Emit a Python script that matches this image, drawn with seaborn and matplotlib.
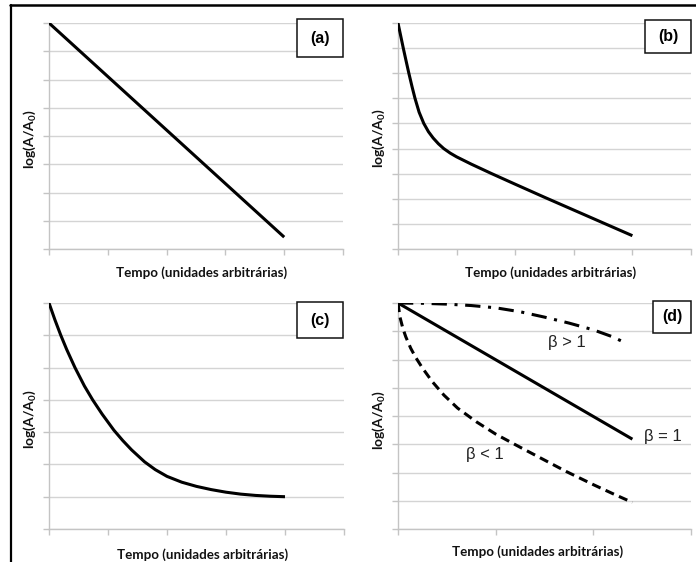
import matplotlib
matplotlib.use("Agg")
import matplotlib.pyplot as plt
from matplotlib.patches import Rectangle
from matplotlib.lines import Line2D
import seaborn as sns
import pandas as pd

# ---- curve data (time in arbitrary units, log(A/A0) in grid units) ----
a_t = [0.0, 4.0]
a_y = [8.0, 0.42]

b_t = [0.0, 0.045, 0.09, 0.14, 0.185, 0.24, 0.29, 0.36, 0.44, 0.52, 0.6, 0.69,
       0.78, 0.89, 1.0, 1.25, 1.6, 2.0, 2.5, 3.0, 3.5, 4.0]
b_y = [9.0, 8.5, 8.0, 7.47, 7.0, 6.46, 6.0, 5.45, 5.0, 4.67, 4.42, 4.19,
       4.0, 3.82, 3.67, 3.38, 3.0, 2.58, 2.06, 1.55, 1.04, 0.53]

c_t = [0.0, 0.1, 0.2, 0.3, 0.44, 0.6, 0.74, 0.9, 1.1, 1.25, 1.4, 1.62, 1.8,
       2.0, 2.25, 2.5, 2.75, 3.0, 3.25, 3.5, 3.75, 4.0]
c_y = [7.0, 6.48, 6.0, 5.56, 5.0, 4.43, 4.0, 3.56, 3.06, 2.74, 2.45, 2.08, 1.84,
       1.63, 1.45, 1.32, 1.22, 1.14, 1.08, 1.04, 1.015, 1.0]

d_eq_t = [0.0, 2.4]
d_eq_y = [8.0, 3.18]
d_gt_t = [0.0, 0.25, 0.5, 0.75, 1.0, 1.25, 1.5, 1.75, 2.0, 2.2, 2.35]
d_gt_y = [8.0, 7.99, 7.96, 7.91, 7.83, 7.69, 7.5, 7.29, 7.05, 6.8, 6.55]
d_lt_t = [0.0, 0.02, 0.05, 0.08, 0.13, 0.18, 0.25, 0.35, 0.47, 0.61, 0.8, 1.0,
          1.22, 1.5, 1.72, 2.0, 2.2, 2.4]
d_lt_y = [8.0, 7.5, 7.1, 6.8, 6.4, 6.08, 5.7, 5.22, 4.74, 4.28, 3.8, 3.36,
          2.95, 2.44, 2.04, 1.57, 1.25, 0.94]

panel_names = ["(a)", "(b)", "(c)", "(d)"]
beta_labels = ["β > 1", "β = 1", "β < 1"]
x_label = "Tempo (unidades arbitrárias)"
y_label = "log(A/A$_\\mathbf{0}$)"

sns.set_theme(style="white")
plt.rcParams["font.family"] = ["Lato", "DejaVu Sans"]
plt.rcParams["mathtext.fontset"] = "custom"
plt.rcParams["mathtext.rm"] = "Lato"
plt.rcParams["mathtext.bf"] = "Lato:bold"
plt.rcParams["mathtext.it"] = "Lato:italic"

W, H = 696, 562
fig = plt.figure(figsize=(W / 100, H / 100), dpi=100)
fig.patch.set_facecolor("white")

GRID = "#d4d4d4"
AXIS = "#c4c4c4"
LW = 2.2


def make_axes(left, right, top, bottom, nx, ny, xlab_pos, ylab_pos):
    ax = fig.add_axes([left / W, 1 - bottom / H, (right - left) / W, (bottom - top) / H])
    ax.set_xlim(0, nx)
    ax.set_ylim(0, ny)
    ax.set_xticks(range(nx + 1))
    ax.set_yticks(range(ny + 1))
    ax.set_xticklabels([])
    ax.set_yticklabels([])
    ax.tick_params(axis="both", which="both", direction="out", length=4,
                   width=1, color=AXIS, left=True, bottom=True)
    ax.yaxis.grid(True, color=GRID, lw=1)
    ax.xaxis.grid(False)
    ax.set_axisbelow(True)
    for s in ["top", "right"]:
        ax.spines[s].set_visible(False)
    for s in ["left", "bottom"]:
        ax.spines[s].set_color(AXIS)
        ax.spines[s].set_linewidth(1)
    ax._lab_pos = (xlab_pos, ylab_pos)
    return ax


def set_labels(ax):
    xlab_pos, ylab_pos = ax._lab_pos
    ax.set_xlabel(x_label, fontsize=9.6, fontweight="bold", color="#111111")
    ax.set_ylabel(y_label, fontsize=10, fontweight="bold", color="#111111")
    ax.xaxis.label.set_va("center")
    ax.yaxis.label.set_va("center")
    ax.xaxis.set_label_coords(*xlab_pos)
    ax.yaxis.set_label_coords(*ylab_pos)


ax_a = make_axes(49, 343, 23, 249, 5, 8, (0.52, -0.106), (-0.065, 0.487))
ax_b = make_axes(398, 691, 23, 249, 5, 9, (0.519, -0.106), (-0.065, 0.49))
ax_c = make_axes(49, 344, 303, 529, 5, 7, (0.52, -0.115), (-0.064, 0.487))
ax_d = make_axes(398, 691, 303, 529, 3, 8, (0.478, -0.102), (-0.065, 0.48))


def draw(ax, t, y, ls="-"):
    df = pd.DataFrame({"t": t, "y": y})
    sns.lineplot(data=df, x="t", y="y", ax=ax, color="black", lw=LW,
                 estimator=None, sort=False, zorder=3)
    line = ax.get_lines()[-1]
    line.set_linestyle(ls)
    line.set_solid_capstyle("butt")
    line.set_dash_capstyle("butt")
    line.set_solid_joinstyle("round")


draw(ax_a, a_t, a_y)
draw(ax_b, b_t, b_y)
draw(ax_c, c_t, c_y)
draw(ax_d, d_gt_t, d_gt_y, (0, (5, 2.5, 1, 2.5)))
draw(ax_d, d_eq_t, d_eq_y)
draw(ax_d, d_lt_t, d_lt_y, (0, (3, 1.8)))

for ax in (ax_a, ax_b, ax_c, ax_d):
    set_labels(ax)

# beta annotations in panel (d)
beta_pos = [(1.73, 6.6), (2.71, 3.26), (0.89, 2.62)]
for txt, (bx, by) in zip(beta_labels, beta_pos):
    ax_d.text(bx, by, txt, ha="center", va="center", fontsize=12,
              family=["Liberation Sans", "DejaVu Sans"], color="#222222", zorder=4)

# panel letter boxes (pixel geometry: x0, x1, y0, y1)
boxes = [(297, 343, 19, 57), (645, 691, 20, 53), (297, 343, 302, 338), (653, 691, 301, 333)]
for name, (x0, x1, y0, y1) in zip(panel_names, boxes):
    fig.add_artist(Rectangle((x0 / W, 1 - y1 / H), (x1 - x0) / W, (y1 - y0) / H,
                             transform=fig.transFigure, facecolor="white",
                             edgecolor="#111111", lw=1.1, zorder=5))
    fig.text((x0 + x1) / 2 / W, 1 - (y0 + y1) / 2 / H, name, ha="center", va="center",
             fontsize=11.5, fontweight="bold", family=["Liberation Sans", "DejaVu Sans"],
             color="black", zorder=6)

# frame lines along the top and left edge
fig.add_artist(Line2D([10 / W, 1], [1 - 5 / H, 1 - 5 / H], transform=fig.transFigure,
                      color="black", lw=1.8, zorder=7))
fig.add_artist(Line2D([10.5 / W, 10.5 / W], [0, 1 - 5 / H], transform=fig.transFigure,
                      color="black", lw=1.6, zorder=7))

fig.savefig("out.png", dpi=100, facecolor="white")
